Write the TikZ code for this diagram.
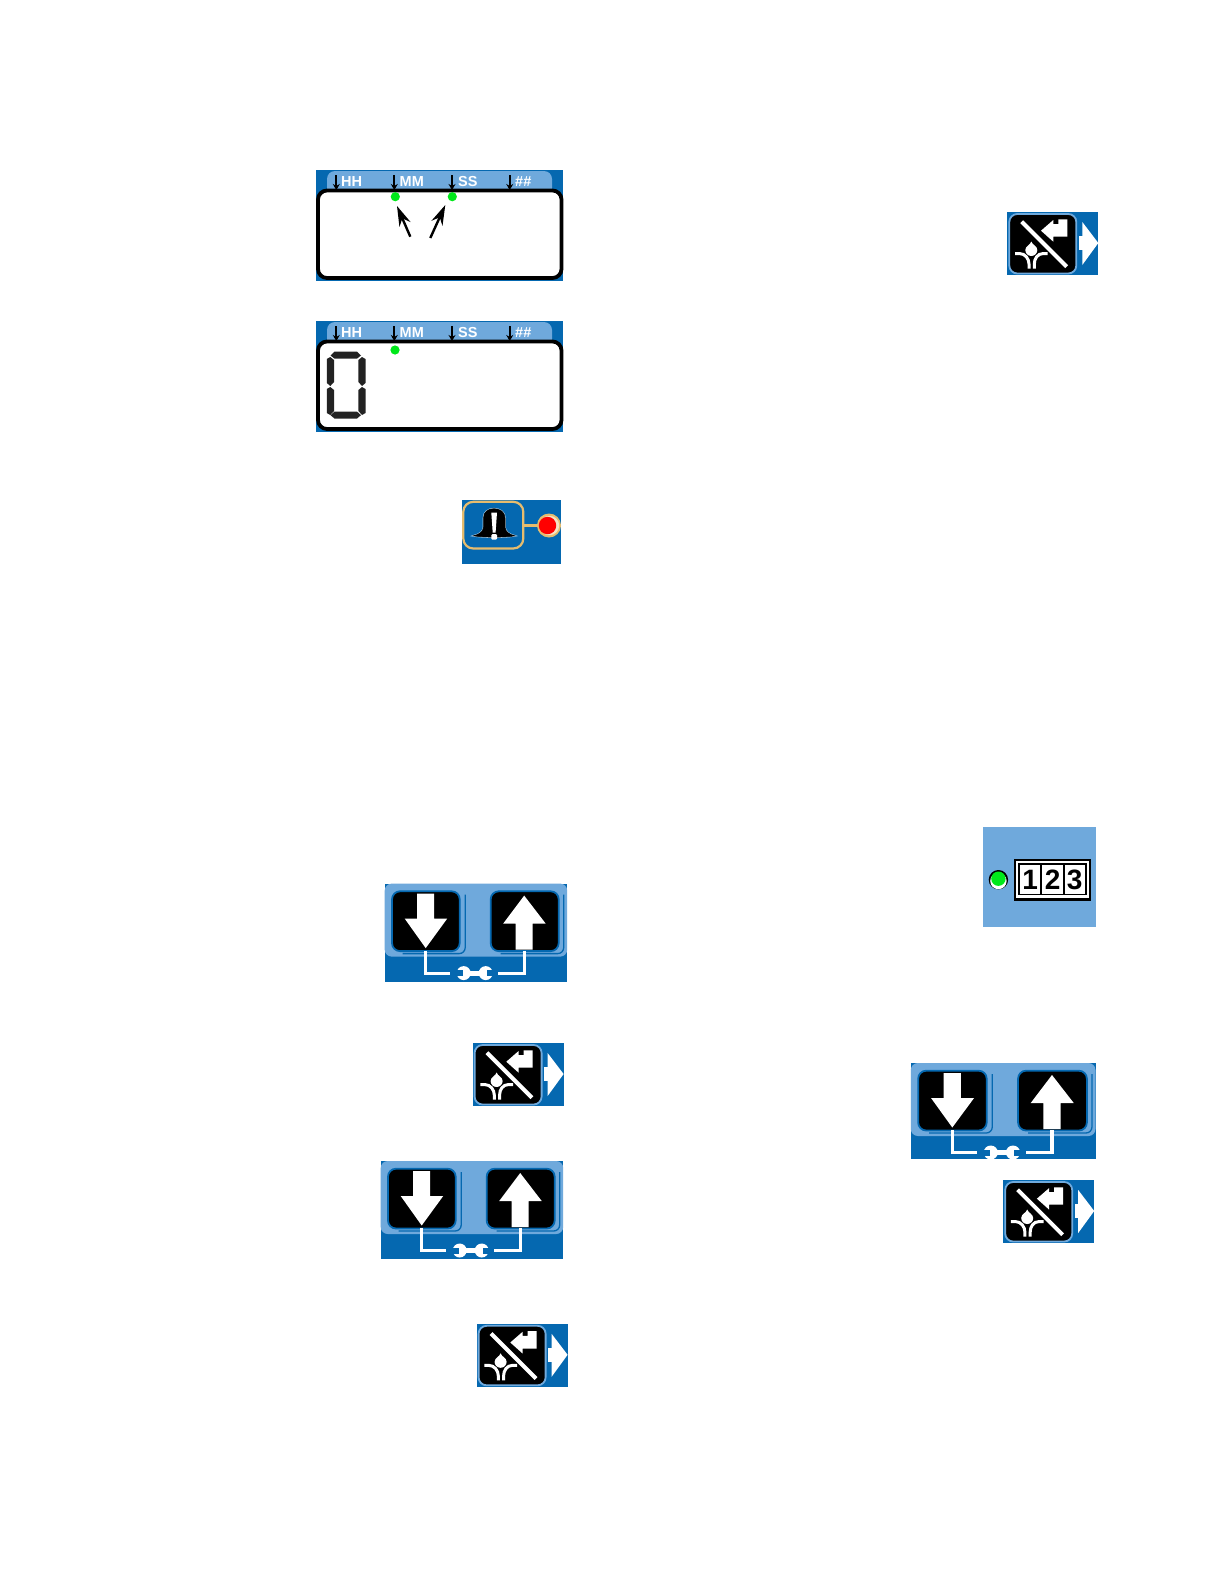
\documentclass[tikz,border=0pt]{standalone}
\usepackage{fontspec}
\setmainfont{Liberation Sans}
\usetikzlibrary{arrows.meta}
\definecolor{dkblue}{HTML}{0568B0}
\definecolor{ltblue}{HTML}{6FA9DC}
\definecolor{ledgreen}{HTML}{00E81A}
\definecolor{tan}{HTML}{E6BC6E}
\definecolor{seg}{HTML}{222222}
\tikzset{
  lab/.style={text=white,font=\bfseries\fontsize{14.5}{14.5}\selectfont,anchor=west,inner sep=0pt},
  digit/.style={text=black,font=\bfseries\fontsize{28}{28}\selectfont,inner sep=0pt},
  tick/.style={-{Stealth[length=6pt,width=7pt]},line width=1.9pt,black},
  callout/.style={-{Stealth[length=20pt,width=12pt]},line width=2.4pt,black},
  keybox/.style={fill=black,draw=dkblue,line width=1.8pt,rounded corners=8pt},
  wline/.style={white,line width=3.2pt},
  pipe/.style={white,line width=3pt},
}
\newcommand{\lcdpanel}[3]{%
\begin{scope}[shift={(#1,#2)}]
  \fill[dkblue] (0,0) rectangle (247,110.5);
  \fill[ltblue,rounded corners=8pt] (11,30) -- (11,1) -- (236,1) -- (236,30) -- cycle;
  \draw[black,line width=3.8pt,fill=white,rounded corners=9pt] (2,20.5) rectangle (245.5,108);
  \draw[tick] (20.3,5) -- (20.3,20);
  \draw[tick] (78.3,5) -- (78.3,20);
  \draw[tick] (136,5) -- (136,20);
  \draw[tick] (193.7,5) -- (193.7,20);
  \node[lab] (#3hh) at (25,11.5) {HH};
  \node[lab] (#3mm) at (83.5,11.5) {MM};
  \node[lab] (#3ss) at (142,11.5) {SS};
  \node[lab] (#3nn) at (199,11.5) {\#\#};
\end{scope}}
\newcommand{\keypair}[4]{%
\begin{scope}[shift={(#1,#2)},xscale=#4]
  \fill[dkblue] (0,0) rectangle (182.5,#3);
  \fill[ltblue,rounded corners=7pt] (0,0) rectangle (182.5,73);
  \draw[dkblue,line width=1.3pt,rounded corners=6pt] (80.5,11) -- (80.5,70) -- (18,70);
  \draw[dkblue,line width=1.3pt,rounded corners=6pt] (179,11) -- (179,70) -- (116,70);
  \draw[keybox] (7.3,7.7) rectangle (75,67.5);
  \draw[keybox] (106,7.7) rectangle (174,67.5);
  \fill[white] (32.5,10) -- (49.5,10) -- (49.5,35) -- (62.5,35) -- (41,64.5) -- (20,35) -- (32.5,35) -- cycle;
  \fill[white] (139.5,12) -- (161,40) -- (148,40) -- (148,66) -- (131,66) -- (131,40) -- (118.5,40) -- cycle;
  \draw[wline] (41,67) -- (41,89.5) -- (65.5,89.5);
  \draw[wline] (139.5,67) -- (139.5,89.5) -- (113.6,89.5);
  \fill[white] (78,87) rectangle (102,92);
  \fill[white] (79,89.5) circle[radius=7];
  \fill[white] (101,89.5) circle[radius=7];
  \fill[dkblue] (71,86.5) rectangle (78,92.5);
  \fill[dkblue] (102,86.5) rectangle (109,92.5);
\end{scope}}
\newcommand{\nopurge}[2]{%
\begin{scope}[shift={(#1,#2)}]
  \fill[dkblue] (0,0) rectangle (91,63);
  \draw[fill=black,draw=ltblue,line width=1.8pt,rounded corners=8pt] (2,2) rectangle (69,61.5);
  \fill[white] (71.5,24) rectangle (78,38);
  \fill[white] (75,10) -- (91,31) -- (75,53) -- cycle;
  \fill[white] (33.7,18.7) -- (46,8) -- (46,12) -- (51,12) -- (51,7.3) -- (60,7.3) -- (60,24.7) -- (46,24.7) -- (46,29.7) -- cycle;
  \draw[black,line width=5.6pt] (14.4,9.7) -- (59.4,54.7);
  \draw[white,line width=4pt] (14.4,9.7) -- (59.4,54.7);
  \fill[white] (24,29.5) .. controls (25,33) and (30,34) .. (30,38) arc[start angle=0,end angle=180,radius=6] .. controls (18,34) and (23,33) .. (24,29.5) -- cycle;
  \draw[pipe] (7.7,41.5) -- (12,41.5) .. controls (18,41.5) and (21.7,47) .. (21.7,52) -- (21.7,56.5);
  \draw[pipe] (40.4,41.5) -- (36,41.5) .. controls (30,41.5) and (27,47) .. (27,52) -- (27,56.5);
\end{scope}}
\begin{document}
\begin{tikzpicture}[x=1pt,y=-1pt]
\useasboundingbox (0,0) rectangle (1224,1584);
\fill[white] (0,0) rectangle (1224,1584);
% display 1
\lcdpanel{316}{170}{a}
\begin{scope}[shift={(316,170)}]
  \fill[ledgreen] (79.3,26.7) circle[radius=4.6];
  \fill[ledgreen] (136.3,26.7) circle[radius=4.6];
  \coordinate (c1s) at (94.3,66.7); \coordinate (c1e) at (81,36);
  \coordinate (c2s) at (114.3,68); \coordinate (c2e) at (129.3,35);
  \draw[callout] (c1s) -- (c1e);
  \draw[callout] (c2s) -- (c2e);
\end{scope}
% display 2
\lcdpanel{316}{321}{b}
\begin{scope}[shift={(316,321)}]
  \fill[ledgreen] (79,29) circle[radius=4.6];
  \fill[seg] (14.5,34.5) -- (18.5,30.7) -- (41,30.7) -- (45,34.5) -- (41,37.6) -- (18.5,37.6) -- cycle;
  \fill[seg] (14.5,94.2) -- (18.5,90.6) -- (41,90.6) -- (45,94.2) -- (41,97.5) -- (18.5,97.5) -- cycle;
  \fill[seg] (14.3,36) -- (18,39) -- (18,61) -- (14.3,65) -- (10.8,62) -- (10.8,38) -- cycle;
  \fill[seg] (14.3,66) -- (18,69) -- (18,90) -- (14.3,94) -- (10.8,92) -- (10.8,68) -- cycle;
  \fill[seg] (46,36) -- (49.5,38) -- (49.5,62) -- (46,65) -- (42.4,61) -- (42.4,39) -- cycle;
  \fill[seg] (46,66) -- (49.5,68) -- (49.5,92) -- (46,94) -- (42.4,90) -- (42.4,69) -- cycle;
\end{scope}
% bell
\begin{scope}[shift={(462,500)}]
  \fill[dkblue] (0,0) rectangle (98.7,63.5);
  \draw[tan,line width=2.2pt,rounded corners=10pt] (1.3,1.8) rectangle (61.3,48.5);
  \draw[tan,line width=2.2pt] (61.3,25.5) -- (76,25.5);
  \fill[tan] (87,25.5) circle[radius=12];
  \fill[white!60!tan] (87.5,25.5) circle[radius=9.7];
  \fill[red] (85.5,25.5) circle[radius=8.7];
  \draw[black,fill=black,line width=.5pt,preaction={draw=white!70!dkblue,line width=1.6pt}] (11.5,35.8) .. controls (17,34.5) and (21,32) .. (21.5,27.5) -- (21.5,18) .. controls (21.5,12) and (26,8.7) .. (32,8.7) .. controls (38,8.7) and (43,12) .. (43,18) -- (43,27.5) .. controls (43.5,32) and (47.5,34.5) .. (52.7,35.8) .. controls (45,37.5) and (20,37.5) .. (11.5,35.8) -- cycle;
  \fill[white] (29.3,12.5) -- (35,12.5) -- (33.6,32.5) -- (30.7,32.5) -- cycle;
  \fill[white,rounded corners=1pt] (29.3,34.2) rectangle (35,39.7);
\end{scope}
% no-purge icons
\nopurge{1007.3}{212}
\nopurge{472.6}{1043}
\nopurge{476.6}{1323.8}
\nopurge{1003.2}{1180}
% key pairs
\keypair{384.7}{883.6}{98}{1}
\keypair{380.7}{1161}{98}{1}
\keypair{910.8}{1063}{96}{1.012}
% counter
\begin{scope}[shift={(982.7,827)}]
  \fill[ltblue] (0,0) rectangle (113,100);
  \fill[black] (15.7,52.7) circle[radius=9.7];
  \fill[white] (15.7,54) circle[radius=8.2];
  \fill[ledgreen] (15.7,51.7) circle[radius=7.2];
  \draw[black,line width=2.2pt,fill=white] (32.5,33) rectangle (107,72.5);
  \draw[black,line width=1.7pt] (36.5,37) rectangle (103,67.5);
  \draw[black,line width=1.7pt] (58.5,37) -- (58.5,67.5);
  \draw[black,line width=1.7pt] (81,37) -- (81,67.5);
  \node[digit] (d1) at (47.5,53) {1};
  \node[digit] (d2) at (70,53) {2};
  \node[digit] (d3) at (92,53) {3};
\end{scope}
\end{tikzpicture}
\end{document}
